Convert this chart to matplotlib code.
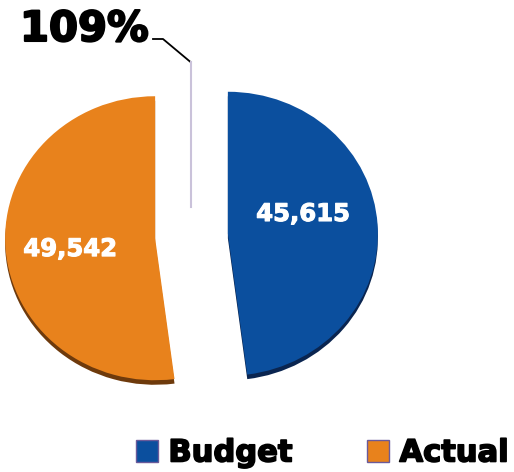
import matplotlib.pyplot as plt
import matplotlib.patheffects as pe
from matplotlib.patches import Patch

# datos
categorias = ['Budget', 'Actual']
valores = [45615, 49542]
colores = ['#0B4F9E', '#E8821C']
colores_sombra = ['#0A2550', '#6E3A0C']

plt.rcParams['font.family'] = ['DejaVu Sans']

W, H = 514, 472
fig = plt.figure(figsize=(W / 100, H / 100), dpi=100)

# eje del pie: 1 unidad = 150 px en x, 142 px en y
cx, cy, rx, ry = 191.5, 236, 150, 142
ax = fig.add_axes([0, 0, 1, 1])
explode = [0.243, 0.243]

# sombra (borde 3D) un poco mas abajo
ax.pie(valores, explode=explode, colors=colores_sombra, startangle=90,
       counterclock=False, center=(0.0, -0.032),
       wedgeprops=dict(linewidth=0))
wedges, _ = ax.pie(valores, explode=explode, colors=colores, startangle=90,
                   counterclock=False, wedgeprops=dict(linewidth=0))
ax.set_aspect('auto')
ax.set_xlim(-cx / rx, (W - cx) / rx)
ax.set_ylim((cy - H) / ry, cy / ry)
ax.axis('off')

def grueso(color, lw=1.0):
    return [pe.withStroke(linewidth=lw, foreground=color)]

# etiquetas de valores
pos_labels = [(0.743, 0.155), (-0.81, -0.092)]
for v, (x, y) in zip(valores, pos_labels):
    ax.text(x, y, f'{v:,}', color='white', fontsize=17.5, fontweight='bold',
            ha='center', va='center', path_effects=grueso('white', 0.8))

# capa en pixeles para la anotacion
ov = fig.add_axes([0, 0, 1, 1])
ov.set_xlim(0, W)
ov.set_ylim(H, 0)
ov.axis('off')
pct = round(valores[1] / valores[0] * 100)
ov.text(20, 41, f'{pct}%', fontsize=30, fontweight='bold', color='black',
        ha='left', va='baseline', path_effects=grueso('black', 1.5))
ov.plot([153, 163, 190.5], [39, 39, 62], color='black', lw=1.3)
ov.plot([190.5, 190.5], [62, 207], color='#CAC2DA', lw=1.5)

# leyenda
handles = [Patch(facecolor=c, edgecolor='#6A5A9A', linewidth=1) for c in colores]
leg = fig.legend(handles, categorias, loc='center', bbox_to_anchor=(322 / W, 1 - 453 / H),
                 ncol=2, frameon=False, borderpad=0, handlelength=0.72, handleheight=0.72,
                 handletextpad=0.35, columnspacing=2.45,
                 prop=dict(size=22, weight='bold'))
for t in leg.get_texts():
    t.set_path_effects(grueso('black', 1.2))

fig.savefig('out.png', dpi=100)
